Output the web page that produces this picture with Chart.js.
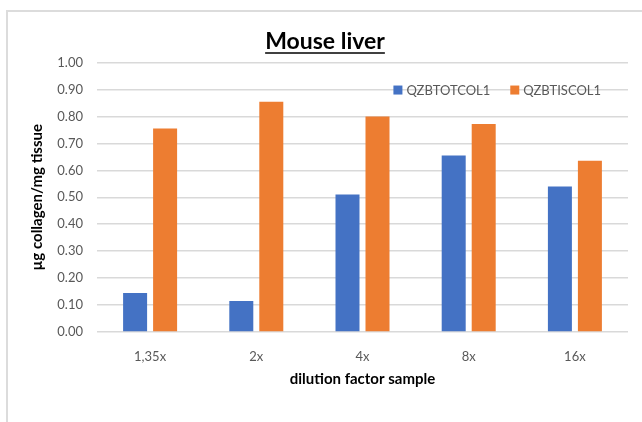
<!DOCTYPE html>
<html>
<head>
<meta charset="utf-8">
<script src="https://cdn.jsdelivr.net/npm/chart.js@4.4.0/dist/chart.umd.min.js"></script>
<style>
  html, body { margin: 0; padding: 0; background: #fff; overflow: hidden; }
  #frame { position: absolute; left: 6px; top: 10px; width: 700px; height: 500px; border: 2px solid #dcdcdc; box-sizing: border-box; }
  #wrap { position: absolute; left: 0; top: 0; width: 642px; height: 422px; }
</style>
</head>
<body>
<div id="frame"></div>
<div id="wrap"><canvas id="chart-area"></canvas></div>
<script>
// values
var categories = ['1,35x', '2x', '4x', '8x', '16x'];
var totCol = [0.145, 0.115, 0.51, 0.655, 0.54];
var tisCol = [0.755, 0.855, 0.80, 0.772, 0.636];
var seriesNames = ['QZBTOTCOL1', 'QZBTISCOL1'];
var yTicks = [0, 0.1, 0.2, 0.3, 0.4, 0.5, 0.6, 0.7, 0.8, 0.9, 1.0];

var FONT = 'Lato, "Open Sans", sans-serif';

// legend sits inside the plot, next to the 0.90 line
var legendInside = {
  id: 'legendInside',
  afterDraw: function (chart) {
    var ctx = chart.ctx;
    var y = chart.scales.y.getPixelForValue(0.9) + 1;
    ctx.save();
    ctx.font = '13px ' + FONT;
    ctx.textBaseline = 'middle';
    var items = chart.data.datasets.map(function (d) {
      return { label: d.label, color: d.backgroundColor, w: ctx.measureText(d.label).width };
    });
    var total = 0;
    items.forEach(function (it, i) { total += 9 + 4 + it.w + (i < items.length - 1 ? 20 : 0); });
    var x = chart.chartArea.right - 27 - total;
    items.forEach(function (it) {
      ctx.fillStyle = it.color;
      ctx.fillRect(x, y - 5, 9, 9);
      x += 13;
      ctx.fillStyle = '#595959';
      ctx.fillText(it.label, x, y);
      x += it.w + 20;
    });
    ctx.restore();
  }
};

// underline under the chart title
var titleUnderline = {
  id: 'titleUnderline',
  afterDraw: function (chart) {
    var t = chart.titleBlock;
    var ctx = chart.ctx;
    ctx.save();
    ctx.font = 'bold 23px ' + FONT;
    var w = ctx.measureText(chart.options.plugins.title.text).width;
    var cx = (t.left + t.right) / 2;
    var y = t.top + 25;
    ctx.strokeStyle = '#000';
    ctx.lineWidth = 1.5;
    ctx.beginPath();
    ctx.moveTo(cx - w / 2, y);
    ctx.lineTo(cx + w / 2, y);
    ctx.stroke();
    ctx.restore();
  }
};

var ctx = document.getElementById('chart-area').getContext('2d');
window.myBar = new Chart(ctx, {
  type: 'bar',
  data: {
    labels: categories,
    datasets: [{
      label: seriesNames[0],
      data: totCol,
      backgroundColor: '#4472C4'
    }, {
      label: seriesNames[1],
      data: tisCol,
      backgroundColor: '#ED7D31'
    }]
  },
  options: {
    responsive: true,
    maintainAspectRatio: false,
    animation: false,
    devicePixelRatio: 1,
    layout: { padding: { left: 22, right: 14, top: 28, bottom: 30 } },
    datasets: { bar: { barPercentage: 0.8, categoryPercentage: 0.565 } },
    plugins: {
      legend: { display: false },
      tooltip: { enabled: false },
      title: {
        display: true,
        text: 'Mouse liver',
        color: '#000',
        font: { family: FONT, size: 23, weight: 'bold' },
        padding: { top: 0, bottom: 7 }
      }
    },
    scales: {
      x: {
        grid: { display: false },
        border: { display: false },
        ticks: { color: '#595959', font: { family: FONT, size: 13 }, padding: 9 },
        title: {
          display: true,
          text: 'dilution factor sample',
          color: '#000',
          font: { family: FONT, size: 15, weight: 'bold' },
          padding: { top: 0, bottom: 4 }
        },
        afterFit: function (scale) { scale.height = 60; }
      },
      y: {
        min: 0,
        max: 1,
        afterBuildTicks: function (scale) {
          scale.ticks = yTicks.map(function (v) { return { value: v }; });
        },
        grid: { color: '#d9d9d9', lineWidth: 1.5, drawTicks: false },
        border: { display: false },
        ticks: {
          color: '#595959',
          font: { family: FONT, size: 13 },
          padding: 14,
          callback: function (v) { return Number(v).toFixed(2); }
        },
        title: {
          display: true,
          text: 'µg collagen/mg tissue',
          color: '#000',
          font: { family: FONT, size: 15, weight: 'bold' },
          padding: { top: 6, bottom: 0 }
        },
        afterFit: function (scale) { scale.width = 75; }
      }
    }
  },
  plugins: [legendInside, titleUnderline]
});
</script>
</body>
</html>
